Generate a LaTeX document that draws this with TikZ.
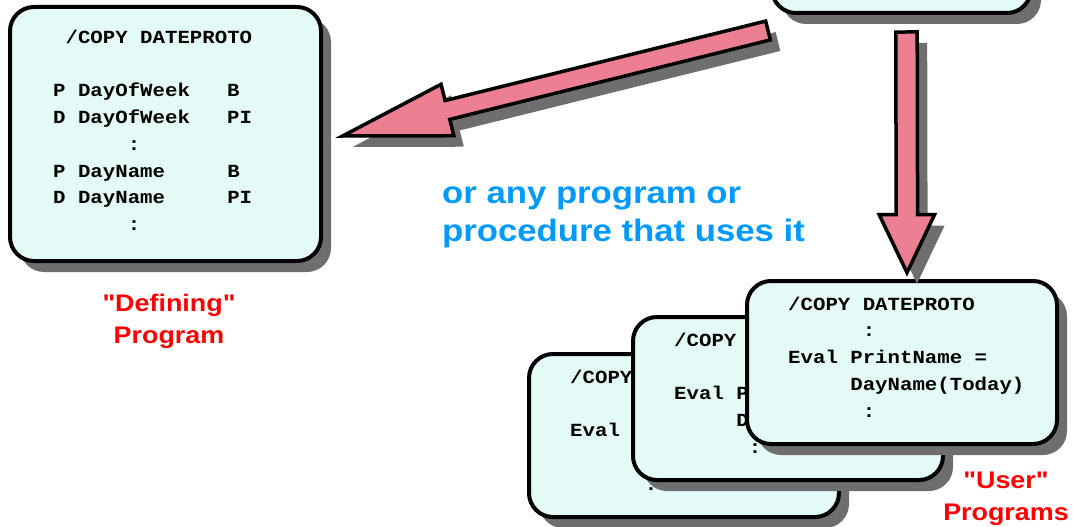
\documentclass[tikz,border=0pt]{standalone}
\usepackage{fontspec}
\usepackage{tikz}
\usetikzlibrary{calc,shadows}
\newfontfamily\codefont{Liberation Mono}[FakeStretch=1.12]
\newfontfamily\labelfont{Liberation Sans}[FakeStretch=1.12]
\definecolor{boxfill}{RGB}{228,250,246}
\definecolor{shadegray}{RGB}{110,110,110}
\definecolor{arrowfill}{RGB}{236,128,146}
\definecolor{noteblue}{RGB}{0,153,255}

\begin{document}
\begin{tikzpicture}[x=1pt, y=-1pt,
		shade/.style={drop shadow={shadow xshift=10pt, shadow yshift=-11pt, fill=shadegray, opacity=1}},
		codebox/.style={shade, draw, line width=4pt, rounded corners=24pt, fill=boxfill,
			anchor=north west, minimum width=310pt, minimum height=163pt},
		code/.style={font=\codefont\bfseries\fontsize{18.5}{26.8}\selectfont, align=left,
			anchor=base west, inner sep=0pt},
		fat/.style={shade, draw, line width=3.5pt, line join=miter, fill=arrowfill},
		redlabel/.style={text=red, align=center, anchor=base,
			font=\labelfont\bfseries\fontsize{24}{32}\selectfont}]
		\useasboundingbox (0,0) rectangle (1074,527);
		% source box, cut off at the top
		\node[codebox, minimum width=259pt, minimum height=200pt] (src) at (770,-189) {};
		% (a) defining program
		\node[codebox, minimum width=311pt, minimum height=254pt] (def) at (8,5) {};
		\node[code] (defText) at ([xshift=45pt,yshift=-225.6pt]def.north west)
			{~/COPY DATEPROTO\\ ~\\
			P DayOfWeek~~~B\\
			D DayOfWeek~~~PI\\
			~~~~~~:\\
			P DayName~~~~~B\\
			D DayName~~~~~PI\\
			~~~~~~:};
		\node[redlabel] (defLabel) at (169,343) {"Defining"\\Program};
		% arrow to the defining program
		\coordinate (lTail) at ([xshift=-2pt,yshift=-15.5pt]src.south west);
		\coordinate (lTip) at ([xshift=19.6pt,yshift=-2pt]def.east);
		\coordinate (lBase) at ($(lTip)!108pt!(lTail)$);
		\draw[fat] ($(lTail)!9.7pt!90:(lTip)$) -- ($(lBase)!9.7pt!90:(lTip)$)
			-- ($(lBase)!26.5pt!90:(lTip)$) -- (lTip) -- ($(lBase)!26.5pt!-90:(lTip)$)
			-- ($(lBase)!9.7pt!-90:(lTip)$) -- ($(lTail)!9.7pt!-90:(lTip)$) -- cycle;
		\node[text=noteblue, align=left, anchor=base west, inner sep=0pt,
			font=\labelfont\bfseries\fontsize{31}{38}\selectfont] (note) at (442,241)
			{or any program or\\procedure that uses it};
		% (b) user programs, stacked
		\foreach \name/\x/\y in {userA/527/352, userB/631/315, userC/745/279} {
			\node[codebox] (\name) at (\x,\y) {};
			\node[code] (\name Text) at ([xshift=43pt,yshift=-138.2pt]\name.north west)
				{/COPY DATEPROTO\\
				~~~~~~:\\
				Eval PrintName =\\
				~~~~~DayName(Today)\\
				~~~~~~:};
		}
		\node[redlabel] (userLabel) at (1006,520) {"User"\\Programs};
		% arrow down to the user programs
		\coordinate (dTail) at ([xshift=5pt,yshift=-17pt]src.south);
		\coordinate (dTip) at ([xshift=5pt,yshift=6.4pt]userC.north);
		\coordinate (dBase) at ($(dTip)!58pt!(dTail)$);
		\draw[fat] ($(dTail)!10.7pt!90:(dTip)$) -- ($(dBase)!10.7pt!90:(dTip)$)
			-- ($(dBase)!27.7pt!90:(dTip)$) -- (dTip) -- ($(dBase)!27.7pt!-90:(dTip)$)
			-- ($(dBase)!10.7pt!-90:(dTip)$) -- ($(dTail)!10.7pt!-90:(dTip)$) -- cycle;
	\end{tikzpicture}
\end{document}
